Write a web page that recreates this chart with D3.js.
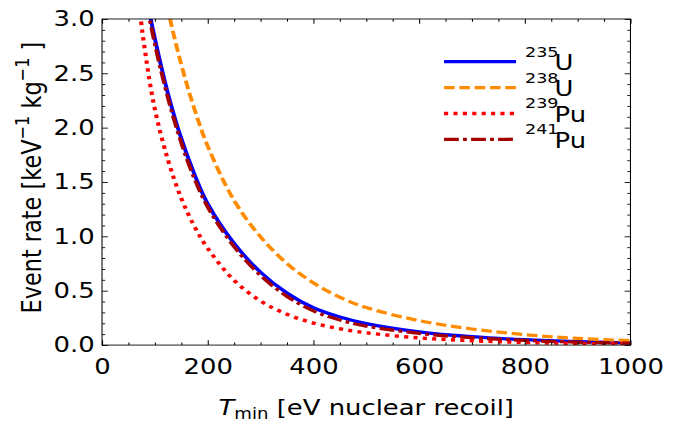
<!DOCTYPE html>
<html><head><meta charset="utf-8">
<script src="https://cdn.jsdelivr.net/npm/d3@7"></script>
<style>body{margin:0;background:#fff} svg{display:block}</style>
</head><body>
<svg id="c" width="676" height="422"></svg>
<script>
// ---- data ----
const tmin  = [60, 80, 100, 125, 150, 175, 200, 250, 300, 350, 400, 450, 500, 600, 700, 800, 900, 1000];
const u235  = [4.0, 3.31, 2.82, 2.31, 1.90, 1.57, 1.30, 0.935, 0.67, 0.478, 0.343, 0.258, 0.198, 0.122, 0.077, 0.049, 0.031, 0.02];
const u238  = [5.1, 4.35, 3.68, 3.08, 2.58, 2.17, 1.83, 1.33, 0.995, 0.75, 0.572, 0.44, 0.345, 0.225, 0.148, 0.096, 0.062, 0.04];
const pu239 = [3.55, 2.75, 2.17, 1.70, 1.35, 1.09, 0.89, 0.595, 0.405, 0.283, 0.203, 0.150, 0.113, 0.066, 0.040, 0.024, 0.015, 0.01];
const pu241 = [3.95, 3.27, 2.77, 2.27, 1.86, 1.53, 1.27, 0.905, 0.64, 0.448, 0.315, 0.23, 0.175, 0.107, 0.068, 0.043, 0.027, 0.017];
const isotopeMass = ["235", "238", "239", "241"];
const isotopeElem = ["U", "U", "Pu", "Pu"];
const xTicks = [0, 200, 400, 600, 800, 1000];
const xMinor = d3.range(0, 1001, 50).filter(v => v % 200 !== 0);
const yTicks = [0, 0.5, 1.0, 1.5, 2.0, 2.5, 3.0];
const yMinor = d3.range(0, 31, 1).map(v => v / 10).filter(v => Math.round(v * 10) % 5 !== 0);

const seriesVals = [u235, u238, pu239, pu241];
const styles = [
  {color: "#0000ff", width: 3.7, dash: null},
  {color: "#ff8c00", width: 3.7, dash: "10,4.5"},
  {color: "#ff0000", width: 3.9, dash: "3.9,5"},
  {color: "#a50000", width: 3.7, dash: "14,4,3.6,4"}
];

// figure drawn in 640x480 units, stretched to 676x422
const FW = 640, FH = 480;
const svg = d3.select("#c");
const g = svg.append("g").attr("transform", `scale(${676/FW},${422/FH})`);
const FONT = "DejaVu Sans";
const FS = 24.5;

const L = 96.6, R = 596.9, T = 21.6, B = 392.5;
const x = d3.scaleLinear().domain([0, 1000]).range([L, R]);
const y = d3.scaleLinear().domain([0, 3]).range([B, T]);

g.append("defs").append("clipPath").attr("id", "clip")
  .append("rect").attr("x", L).attr("y", T).attr("width", R - L).attr("height", B - T);

// curves
const line = d3.line().curve(d3.curveCatmullRom.alpha(0.5)).x(d => x(d[0])).y(d => y(d[1]));
const plot = g.append("g").attr("clip-path", "url(#clip)");
seriesVals.forEach((vals, i) => {
  const st = styles[i];
  plot.append("path")
    .datum(tmin.map((t, j) => [t, vals[j]]))
    .attr("d", line)
    .attr("fill", "none")
    .attr("stroke", st.color)
    .attr("stroke-width", st.width)
    .attr("stroke-dasharray", st.dash);
});

// axes
function finish(sel, labels) {
  sel.select(".domain").remove();
  sel.selectAll("line").attr("stroke", "#000").attr("stroke-width", 1);
  sel.selectAll("text").attr("font-family", FONT).attr("font-size", FS).attr("fill", "#000");
  if (!labels) sel.selectAll("text").remove();
}
const MAJ = 5.5, MIN = 3;
g.append("g").attr("transform", `translate(0,${B})`)
  .call(d3.axisBottom(x).tickValues(xTicks).tickSize(-MAJ).tickPadding(15).tickFormat(d3.format("d")))
  .call(s => finish(s, true));
g.append("g").attr("transform", `translate(0,${B})`)
  .call(d3.axisBottom(x).tickValues(xMinor).tickSize(-MIN).tickFormat(""))
  .call(s => finish(s, false));
g.append("g").attr("transform", `translate(0,${T})`)
  .call(d3.axisTop(x).tickValues(xTicks).tickSize(-MAJ).tickFormat(""))
  .call(s => finish(s, false));
g.append("g").attr("transform", `translate(0,${T})`)
  .call(d3.axisTop(x).tickValues(xMinor).tickSize(-MIN).tickFormat(""))
  .call(s => finish(s, false));
g.append("g").attr("transform", `translate(${L},0)`)
  .call(d3.axisLeft(y).tickValues(yTicks).tickSize(-MAJ).tickPadding(7).tickFormat(d3.format(".1f")))
  .call(s => finish(s, true));
g.append("g").attr("transform", `translate(${L},0)`)
  .call(d3.axisLeft(y).tickValues(yMinor).tickSize(-MIN).tickFormat(""))
  .call(s => finish(s, false));
g.append("g").attr("transform", `translate(${R},0)`)
  .call(d3.axisRight(y).tickValues(yTicks).tickSize(-MAJ).tickFormat(""))
  .call(s => finish(s, false));
g.append("g").attr("transform", `translate(${R},0)`)
  .call(d3.axisRight(y).tickValues(yMinor).tickSize(-MIN).tickFormat(""))
  .call(s => finish(s, false));

// frame
g.append("rect").attr("x", L).attr("y", T).attr("width", R - L).attr("height", B - T)
  .attr("fill", "none").attr("stroke", "#000").attr("stroke-width", 1);

// x label
const xl = g.append("text").attr("x", (L + R) / 2).attr("y", 472)
  .attr("text-anchor", "middle").attr("font-family", FONT).attr("font-size", FS).attr("fill", "#000");
xl.append("tspan").attr("font-style", "italic").text("T");
xl.append("tspan").attr("font-size", FS * 0.7).attr("dy", 5).text("min");
xl.append("tspan").attr("dy", -5).text(" [eV nuclear recoil]");

// y label
const YFS = 25.5;
const yl = g.append("text").attr("transform", `translate(38.5,202) rotate(-90)`)
  .attr("text-anchor", "middle").attr("font-family", FONT).attr("font-size", YFS).attr("fill", "#000");
yl.append("tspan").text("Event rate [keV");
yl.append("tspan").attr("font-size", YFS * 0.72).attr("dy", -11).text("\u22121");
yl.append("tspan").attr("dy", 11).text(" kg");
yl.append("tspan").attr("font-size", YFS * 0.72).attr("dy", -11).text("\u22121");
yl.append("tspan").attr("dy", 11).text("  ]");

// legend
const rowY = d3.scaleLinear().domain([0, 1]).range([70.2, 99.6]);
isotopeMass.forEach((m, i) => {
  const st = styles[i];
  const yy = rowY(i);
  g.append("line").attr("x1", 420.4).attr("x2", 488.5).attr("y1", yy).attr("y2", yy)
    .attr("stroke", st.color).attr("stroke-width", st.width).attr("stroke-dasharray", st.dash);
  const t = g.append("text").attr("font-family", FONT).attr("fill", "#000");
  t.append("tspan").attr("x", 497).attr("y", yy - 5.6).attr("font-size", FS * 0.68).text(m);
  t.append("tspan").attr("x", 525).attr("y", yy + 9.4).attr("font-size", FS).text(isotopeElem[i]);
});
</script>
</body></html>
